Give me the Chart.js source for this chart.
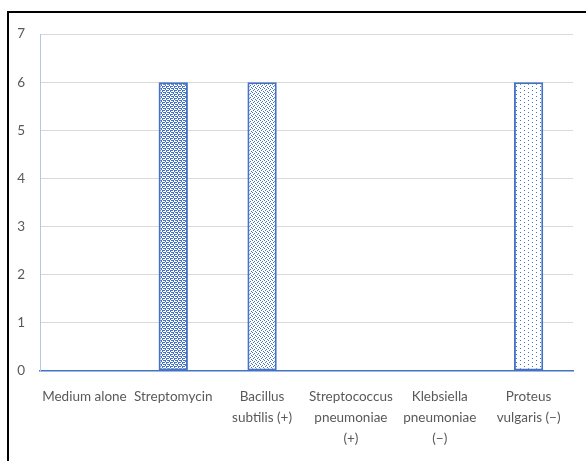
<!DOCTYPE html>
<html>
<head>
<meta charset="utf-8">
<script src="https://cdn.jsdelivr.net/npm/chart.js@4"></script>
<style>
  html, body { margin: 0; padding: 0; background: #fff; }
  #wrap { position: relative; width: 586px; height: 461px; }
</style>
</head>
<body>
<div id="wrap"><canvas id="myChart" width="586" height="461"></canvas></div>
<script>
// data
const categories = [
  "Medium alone",
  "Streptomycin",
  ["Bacillus", "subtilis (+)"],
  ["Streptococcus", "pneumoniae", "(+)"],
  ["Klebsiella", "pneumoniae", "(\u2212)"],
  ["Proteus", "vulgaris (\u2212)"],
];
const values = [0, 6, 6, 0, 0, 6];
const yTicks = [0, 1, 2, 3, 4, 5, 6, 7];

const blue = "#4472C4";

// make a small tile pattern from a text map ("X" = blue pixel)
function makePattern(rows) {
  const c = document.createElement("canvas");
  c.width = rows[0].length;
  c.height = rows.length;
  const g = c.getContext("2d");
  g.fillStyle = "#fff";
  g.fillRect(0, 0, c.width, c.height);
  g.fillStyle = blue;
  rows.forEach((r, y) => {
    for (let x = 0; x < r.length; x++) {
      if (r[x] === "X") g.fillRect(x, y, 1, 1);
    }
  });
  return document.getElementById("myChart").getContext("2d").createPattern(c, "repeat");
}

const densePat = makePattern(["XX.X", ".X..", "X.XX", "..X."]);
const mediumPat = makePattern(["X...", "..X.", ".X..", "...X"]);
const sparsePat = makePattern(["X.......", "........", "....X...", "........"]);
const patterns = [densePat, densePat, mediumPat, mediumPat, sparsePat, sparsePat];

// black frame on top and left like the original picture
const framePlugin = {
  id: "frame",
  afterDraw(chart) {
    const ctx = chart.ctx;
    ctx.save();
    ctx.strokeStyle = "#000";
    ctx.lineWidth = 2;
    ctx.beginPath();
    ctx.moveTo(8, 461);
    ctx.lineTo(8, 12);
    ctx.lineTo(586, 12);
    ctx.stroke();
    ctx.restore();
  },
};

const myChart = new Chart(document.getElementById("myChart"), {
  type: "bar",
  data: {
    labels: categories,
    datasets: [
      {
        data: values,
        backgroundColor: patterns,
        borderColor: blue,
        borderWidth: (c) => (c.raw > 0 ? 2 : 0),
        borderSkipped: false,
        barPercentage: 0.33,
        categoryPercentage: 1,
      },
    ],
  },
  options: {
    responsive: false,
    animation: false,
    layout: { padding: { left: 0, right: 13, top: 34, bottom: 0 } },
    plugins: { legend: { display: false }, tooltip: { enabled: false } },
    scales: {
      x: {
        grid: { display: false, drawTicks: false },
        border: { color: blue, width: 1.5 },
        ticks: {
          color: "#595959",
          font: { family: "Lato", size: 13.5, lineHeight: 1.55 },
          padding: 15,
          maxRotation: 0,
          autoSkip: false,
        },
        afterFit(scale) {
          scale.height = 90;
        },
      },
      y: {
        min: 0,
        max: 7,
        afterBuildTicks(scale) {
          scale.ticks = yTicks.map((v) => ({ value: v }));
        },
        grid: {
          color: (c) => (c.tick && c.tick.value === 0 ? "rgba(0,0,0,0)" : "#D9D9D9"),
          drawTicks: false,
        },
        border: { color: "#B4C7E7", width: 1 },
        ticks: {
          color: "#595959",
          font: { family: "Lato", size: 13.5 },
          padding: 15,
        },
        afterFit(scale) {
          scale.width = 40;
        },
      },
    },
  },
  plugins: [framePlugin],
});
</script>
</body>
</html>
